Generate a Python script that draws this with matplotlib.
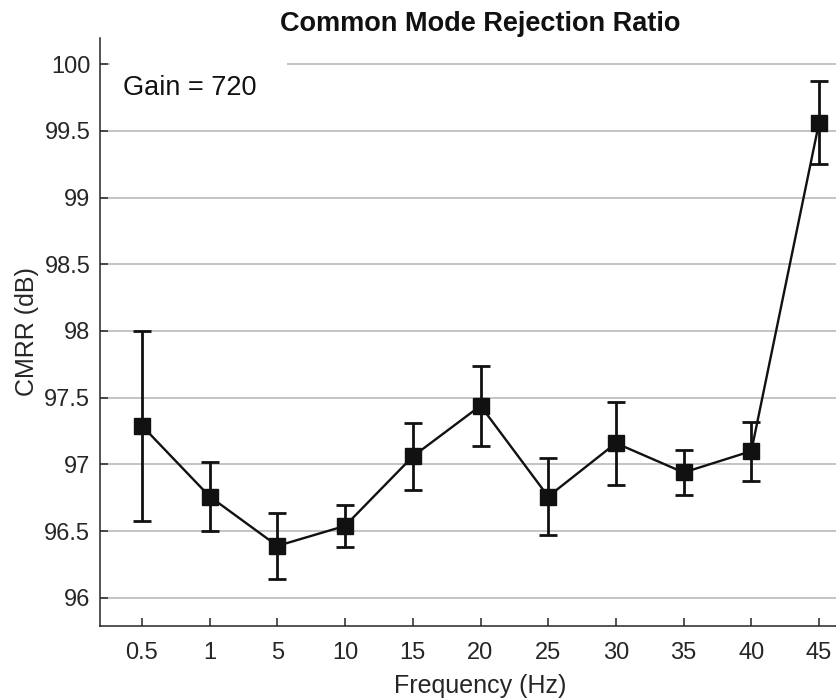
import numpy as np
import matplotlib
matplotlib.use("Agg")
from matplotlib import pyplot as plt
from matplotlib.patches import Rectangle
from matplotlib.ticker import FormatStrFormatter

plt.rcParams["font.family"] = ["Liberation Sans", "DejaVu Sans"]

# measured CMRR per test frequency, mean and standard deviation
frequencies = ["0.5", "1", "5", "10", "15", "20", "25", "30", "35", "40", "45"]
cmrr_mean = [97.29, 96.76, 96.39, 96.54, 97.06, 97.44, 96.76, 97.16, 96.94, 97.10, 99.56]
cmrr_std = [0.71, 0.26, 0.25, 0.16, 0.25, 0.30, 0.29, 0.31, 0.17, 0.22, 0.31]
y_ticks = [96, 96.5, 97, 97.5, 98, 98.5, 99, 99.5, 100]

ink = "#262626"

fig = plt.figure(figsize=(8.37, 6.98), dpi=100)
ax = fig.add_axes([100 / 837, 72 / 698, 761 / 837, 588 / 698])

x = np.arange(len(frequencies))
ax.errorbar(
    x, cmrr_mean, yerr=cmrr_std,
    color="#111111", linewidth=1.7,
    marker="s", markersize=11, markerfacecolor="#111111", markeredgecolor="#111111",
    elinewidth=2.0, capsize=6.5, capthick=2.0, zorder=3,
)

ax.set_xlim(-0.62, 10.62)
ax.set_ylim(95.79, 100.195)
ax.set_xticks(x)
ax.set_xticklabels(frequencies)
ax.set_yticks(y_ticks)
ax.yaxis.set_major_formatter(FormatStrFormatter("%g"))

ax.set_axisbelow(True)
ax.yaxis.grid(True, color="#b4b4b4", linewidth=1.1)
ax.xaxis.grid(False)

for side in ("top", "right"):
    ax.spines[side].set_visible(False)
for side in ("left", "bottom"):
    ax.spines[side].set_color(ink)
    ax.spines[side].set_linewidth(1.1)

ax.tick_params(direction="in", length=6, width=1.1, color=ink,
               labelcolor=ink, labelsize=17)
ax.tick_params(axis="x", pad=11.5)
ax.tick_params(axis="y", pad=7)

ax.set_xlabel("Frequency (Hz)", fontsize=18, color=ink, labelpad=7)
ax.set_ylabel("CMRR (dB)", fontsize=18, color=ink, labelpad=4)
ax.set_title("Common Mode Rejection Ratio", fontsize=19.5, fontweight="bold",
             color="#111111", pad=5)

# annotation box hides the grid line behind it
ax.add_patch(Rectangle((0.013, 0.852), 0.233, 0.128, transform=ax.transAxes,
                       facecolor="white", edgecolor="none", zorder=1.5))
ax.text(0.030, 0.915, "Gain = 720", transform=ax.transAxes, fontsize=19.5,
        color="#111111", va="center", ha="left", zorder=4)

fig.savefig("out.png", dpi=100)
